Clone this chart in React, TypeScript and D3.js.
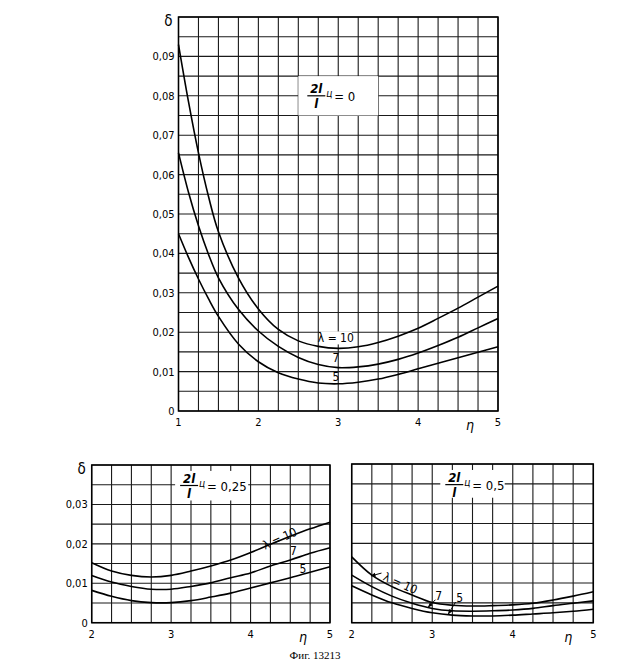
import React from 'react';
import * as d3 from 'd3';

// top panel, 2l_ц/l = 0
const topEta = [1, 1.125, 1.25, 1.375, 1.5, 1.75, 2, 2.25, 2.5, 2.75, 3, 3.25, 3.5, 3.75, 4, 4.25, 4.5, 4.75, 5];
const topL10 = [0.093, 0.0785, 0.0655, 0.0545, 0.0455, 0.0338, 0.0259, 0.0207, 0.0178, 0.0164, 0.0159, 0.0163, 0.0174, 0.019, 0.021, 0.0235, 0.0261, 0.0289, 0.0317];
const topL7 = [0.0655, 0.0555, 0.047, 0.0398, 0.0338, 0.0258, 0.0203, 0.0164, 0.0136, 0.0118, 0.011, 0.0112, 0.0119, 0.0131, 0.0147, 0.0166, 0.0187, 0.0211, 0.0235];
const topL5 = [0.045, 0.039, 0.0335, 0.0285, 0.024, 0.017, 0.0125, 0.0097, 0.0081, 0.0071, 0.0069, 0.0073, 0.0081, 0.0093, 0.0107, 0.0121, 0.0135, 0.0149, 0.0163];

// bottom panels
const bottomEta = [2, 2.25, 2.5, 2.75, 3, 3.25, 3.5, 3.75, 4, 4.25, 4.5, 4.75, 5];
const leftL10 = [0.0152, 0.0131, 0.012, 0.0116, 0.012, 0.0131, 0.0144, 0.0159, 0.0178, 0.0199, 0.0219, 0.0238, 0.0255];
const leftL7 = [0.012, 0.0103, 0.0092, 0.0085, 0.0085, 0.0092, 0.0101, 0.0114, 0.0126, 0.0144, 0.0159, 0.0176, 0.019];
const leftL5 = [0.0082, 0.0067, 0.0056, 0.0051, 0.0051, 0.0056, 0.0065, 0.0075, 0.0088, 0.0101, 0.0114, 0.0128, 0.0142];
const rightL10 = [0.0166, 0.012, 0.0091, 0.007, 0.0051, 0.0044, 0.0042, 0.0043, 0.0045, 0.0049, 0.0057, 0.0067, 0.0078];
const rightL7 = [0.012, 0.0091, 0.0067, 0.0049, 0.0036, 0.003, 0.0029, 0.003, 0.0032, 0.0036, 0.0043, 0.0049, 0.0055];
const rightL5 = [0.0093, 0.007, 0.005, 0.0036, 0.0025, 0.0019, 0.0017, 0.0017, 0.0019, 0.0022, 0.0025, 0.0029, 0.0034];

const topYTicks = [0, 0.01, 0.02, 0.03, 0.04, 0.05, 0.06, 0.07, 0.08, 0.09];
const bottomYTicks = [0, 0.01, 0.02, 0.03];
const topXTicks = [1, 2, 3, 4, 5];
const bottomXTicks = [2, 3, 4, 5];

const FONT = '"Liberation Sans Narrow", "DejaVu Sans Condensed", "Arial Narrow", sans-serif';
const fmt = (v: number) => (v === 0 ? '0' : d3.format('.2f')(v).replace('.', ','));

type Scale = d3.ScaleLinear<number, number>;

function Formula({ cx, cy, value }: { cx: number; cy: number; value: string }) {
  return (
    <g fontFamily={FONT} fill="#000">
      <text x={cx} y={cy - 3} fontSize={13} fontWeight="bold" fontStyle="italic" textAnchor="middle">2l</text>
      <line x1={cx - 9} x2={cx + 9} y1={cy} y2={cy} stroke="#000" strokeWidth={1.2} />
      <text x={cx} y={cy + 12} fontSize={13} fontWeight="bold" fontStyle="italic" textAnchor="middle">l</text>
      <text x={cx + 10} y={cy + 1} fontSize={10} fontStyle="italic">ц</text>
      <text x={cx + 18} y={cy + 5} fontSize={13}>= {value}</text>
    </g>
  );
}

interface PanelProps {
  left: number; right: number; top: number; bottom: number;
  xDomain: [number, number]; yMax: number;
  eta: number[]; series: number[][];
  xTicks: number[]; yTicks: number[] | null;
  etaAt: number;
  children: (x: Scale, y: Scale) => React.ReactNode;
}

function Panel({ left, right, top, bottom, xDomain, yMax, eta, series, xTicks, yTicks, etaAt, children }: PanelProps) {
  const x = d3.scaleLinear().domain(xDomain).range([left, right]);
  const y = d3.scaleLinear().domain([0, yMax]).range([bottom, top]);
  const vLines = d3.range(xDomain[0], xDomain[1] + 0.001, 0.25);
  const hLines = d3.range(0, yMax + 0.0001, 0.005);
  const line = d3.line<number>().x((_, i) => x(eta[i])).y((d) => y(d)).curve(d3.curveCatmullRom.alpha(0.5));
  return (
    <g>
      {vLines.map((v) => (
        <line key={'v' + v} x1={x(v)} x2={x(v)} y1={top} y2={bottom} stroke="#1a1a1a" strokeWidth={1.1} />
      ))}
      {hLines.map((v) => (
        <line key={'h' + v} x1={left} x2={right} y1={y(v)} y2={y(v)} stroke="#1a1a1a" strokeWidth={1.1} />
      ))}
      <rect x={left} y={top} width={right - left} height={bottom - top} fill="none" stroke="#000" strokeWidth={1.5} />
      {series.map((s, i) => (
        <path key={i} d={line(s) || ''} fill="none" stroke="#000" strokeWidth={1.6} />
      ))}
      <g fontFamily={FONT} fontSize={11} fill="#000">
        {xTicks.map((t) => (
          <text key={t} x={x(t)} y={bottom + 15} textAnchor="middle">{t}</text>
        ))}
        <text x={x(etaAt)} y={bottom + 19} textAnchor="middle" fontSize={14} fontStyle="italic">η</text>
        {yTicks && yTicks.map((t) => (
          <text key={t} x={left - 4} y={y(t) + 4} textAnchor="end">{fmt(t)}</text>
        ))}
        {yTicks && <text x={left - 6} y={top + 9} textAnchor="end" fontSize={15}>δ</text>}
      </g>
      {children(x, y)}
    </g>
  );
}

export default function App() {
  const lab = { fontFamily: FONT, fontSize: 12, fill: '#000', textAnchor: 'middle' as const, dominantBaseline: 'middle' as const };
  return (
    <svg width={626} height={665} style={{ position: 'absolute', left: 0, top: 0, background: '#fff' }}>
      <defs>
        <marker id="arr" viewBox="0 0 10 10" refX={9} refY={5} markerWidth={5} markerHeight={5} orient="auto">
          <path d="M0,1 L10,5 L0,9 z" fill="#000" />
        </marker>
      </defs>
      <rect width={626} height={665} fill="#fff" />

      <Panel left={178.5} right={498} top={17} bottom={411} xDomain={[1, 5]} yMax={0.1}
        eta={topEta} series={[topL10, topL7, topL5]} xTicks={topXTicks} yTicks={topYTicks} etaAt={4.65}>
        {(x, y) => (
          <g>
            <rect x={x(2.5)} y={y(0.085)} width={x(3.5) - x(2.5)} height={y(0.075) - y(0.085)} fill="#fff" />
            <Formula cx={x(2.5) + 18} cy={y(0.08)} value="0" />
            <rect x={x(2.78)} y={y(0.0202)} width={x(3.17) - x(2.78)} height={y(0.0169) - y(0.0202)} fill="#fff" />
            <text {...lab} x={x(2.97)} y={y(0.0185)}>λ = 10</text>
            <text {...lab} x={x(2.97)} y={y(0.0134)}>7</text>
            <text {...lab} x={x(2.97)} y={y(0.0085)}>5</text>
          </g>
        )}
      </Panel>

      <Panel left={91.7} right={330} top={465} bottom={622.7} xDomain={[2, 5]} yMax={0.04}
        eta={bottomEta} series={[leftL10, leftL7, leftL5]} xTicks={bottomXTicks} yTicks={bottomYTicks} etaAt={4.66}>
        {(x, y) => (
          <g>
            <rect x={x(3.05)} y={y(0.0385)} width={x(3.97) - x(3.05)} height={y(0.031) - y(0.0385)} fill="#fff" />
            <Formula cx={x(3.05) + 14} cy={y(0.0348)} value="0,25" />
            <text {...lab} transform={`translate(${x(4.37)},${y(0.0212)}) rotate(-24)`}>λ = 10</text>
            <text {...lab} x={x(4.54)} y={y(0.018)}>7</text>
            <text {...lab} x={x(4.66)} y={y(0.0136)}>5</text>
          </g>
        )}
      </Panel>

      <Panel left={351.7} right={593.3} top={464} bottom={622.7} xDomain={[2, 5]} yMax={0.04}
        eta={bottomEta} series={[rightL10, rightL7, rightL5]} xTicks={bottomXTicks} yTicks={null} etaAt={4.69}>
        {(x, y) => (
          <g>
            <rect x={x(3.1)} y={y(0.0385)} width={x(3.9) - x(3.1)} height={y(0.0315) - y(0.0385)} fill="#fff" />
            <Formula cx={x(3.1) + 14} cy={y(0.0348)} value="0,5" />
            <line x1={x(2.37)} y1={y(0.0125)} x2={x(2.24)} y2={y(0.0118)} stroke="#000" strokeWidth={1} markerEnd="url(#arr)" />
            <text {...lab} transform={`translate(${x(2.6)},${y(0.0098)}) rotate(24)`}>λ = 10</text>
            <text {...lab} x={x(3.08)} y={y(0.0066)}>7</text>
            <line x1={x(3.04)} y1={y(0.0058)} x2={x(2.95)} y2={y(0.0039)} stroke="#000" strokeWidth={1} markerEnd="url(#arr)" />
            <text {...lab} x={x(3.34)} y={y(0.0062)}>5</text>
            <line x1={x(3.29)} y1={y(0.0052)} x2={x(3.2)} y2={y(0.0022)} stroke="#000" strokeWidth={1} markerEnd="url(#arr)" />
          </g>
        )}
      </Panel>

      <text x={315} y={659} textAnchor="middle" fontFamily='"Liberation Serif", serif' fontSize={11}>Фиг. 13213</text>
    </svg>
  );
}
